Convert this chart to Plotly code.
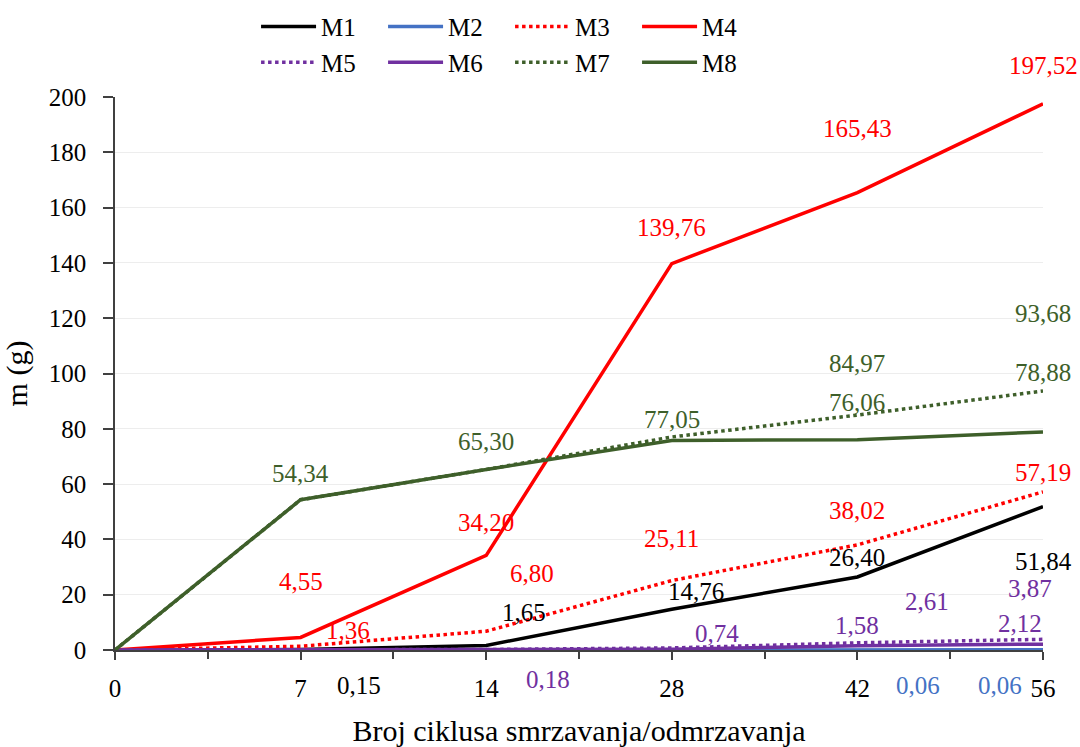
import plotly.graph_objects as go

cycles = ["0", "7", "14", "28", "42", "56"]
series_names = ["M1", "M2", "M3", "M4", "M5", "M6", "M7", "M8"]
m1 = [0, 0.15, 1.65, 14.76, 26.40, 51.84]
m2 = [0, 0.01, 0.02, 0.04, 0.06, 0.06]
m3 = [0, 1.36, 6.80, 25.11, 38.02, 57.19]
m4 = [0, 4.55, 34.20, 139.76, 165.43, 197.52]
m5 = [0, 0.05, 0.18, 0.74, 2.61, 3.87]
m6 = [0, 0.02, 0.05, 0.30, 1.58, 2.12]
m7 = [0, 54.34, 65.30, 77.05, 84.97, 93.68]
m8 = [0, 54.34, 65.30, 75.80, 76.06, 78.88]
y_ticks = [0, 20, 40, 60, 80, 100, 120, 140, 160, 180, 200]

values = dict(M1=m1, M2=m2, M3=m3, M4=m4, M5=m5, M6=m6, M7=m7, M8=m8)

# styles
FONT = "Palatino Linotype, Book Antiqua, Palatino, Liberation Serif, serif"
FS = 25
colors = dict(M1="#000000", M2="#4472C4", M3="#FF0000", M4="#FF0000",
              M5="#7030A0", M6="#7030A0", M7="#3E5F2A", M8="#3E5F2A")
dashes = dict(M1="solid", M2="solid", M3="dot", M4="solid",
              M5="dot", M6="solid", M7="dot", M8="solid")

# data label placement: (point index, xshift px, yshift px)
label_pos = {
    "M1": [(1, 58, -36), (2, 38, 33), (3, 24, 18), (4, 0, 20), (5, 0, -55)],
    "M2": [(4, 61, -36), (5, -43, -36)],
    "M3": [(1, 47, 16), (2, 46, 58), (3, 0, 42), (4, 0, 34), (5, 0, 19)],
    "M4": [(1, 0, 56), (2, 0, 33), (3, 0, 36), (4, 0, 64), (5, 0, 38)],
    "M5": [(2, 62, -30), (3, 45, 14), (4, 70, 41), (5, -13, 51)],
    "M6": [(4, 0, 20), (5, -23, 21)],
    "M7": [(1, 0, 26), (2, 0, 28), (3, 0, 17), (4, 0, 52), (5, 0, 77)],
    "M8": [(4, 0, 37), (5, 0, 59)],
}

fig = go.Figure()
for name in series_names:
    fig.add_trace(go.Scatter(
        x=cycles, y=values[name], name=name, mode="lines",
        line=dict(color=colors[name], width=3.5, dash=dashes[name]),
        legend="legend" if name in ("M1", "M2", "M3", "M4") else "legend2",
    ))

# invisible trace for the secondary (boundary) tick axis
fig.add_trace(go.Scatter(x=cycles, y=[None] * len(cycles), xaxis="x2",
                         showlegend=False, hoverinfo="skip", mode="lines"))

annotations = []
for name in series_names:
    for idx, dx, dy in label_pos[name]:
        v = values[name][idx]
        annotations.append(dict(
            x=idx, y=v, xref="x", yref="y",
            text=f"{v:.2f}".replace(".", ","), showarrow=False,
            xshift=dx, yshift=dy,
            font=dict(family=FONT, size=FS, color=colors[name]),
        ))

axis_col = "#404040"
fig.update_layout(
    width=1080, height=747,
    margin=dict(l=115, r=37, t=97, b=97, autoexpand=False),
    paper_bgcolor="white", plot_bgcolor="white",
    font=dict(family=FONT, size=FS, color="#000000"),
    annotations=annotations,
    xaxis=dict(
        type="category", categoryorder="array", categoryarray=cycles,
        range=[0, 5], showgrid=False, zeroline=False,
        showline=True, linecolor=axis_col, linewidth=1.5,
        ticks="outside", ticklen=8, tickcolor=axis_col, tickwidth=1.5,
        ticklabelstandoff=7,
        title=dict(text="Broj ciklusa smrzavanja/odmrzavanja", standoff=36),
    ),
    xaxis2=dict(
        type="category", categoryorder="array", categoryarray=cycles,
        range=[0, 5], overlaying="x", anchor="y", side="bottom",
        tickson="boundaries", ticks="outside", ticklen=8,
        tickcolor=axis_col, tickwidth=1.5, showticklabels=False,
        showgrid=False, showline=False, zeroline=False,
    ),
    yaxis=dict(
        range=[0, 200], tickvals=y_ticks, showgrid=True,
        gridcolor="#EDEDED", gridwidth=1.2, zeroline=False,
        showline=True, linecolor=axis_col, linewidth=1.5,
        ticks="outside", ticklen=10, tickcolor=axis_col, tickwidth=1.5,
        ticklabelstandoff=12,
        title=dict(text="m (g)", standoff=12),
    ),
    legend=dict(orientation="h", x=0.152, xanchor="left",
                y=0.995, yref="container", yanchor="top",
                entrywidth=57, itemwidth=55, font=dict(size=FS)),
    legend2=dict(orientation="h", x=0.152, xanchor="left",
                 y=0.947, yref="container", yanchor="top",
                 entrywidth=57, itemwidth=55, font=dict(size=FS)),
    showlegend=True,
)

fig.write_html("out.html", post_script="document.body.style.margin='0';",
               config={"displayModeBar": False})
